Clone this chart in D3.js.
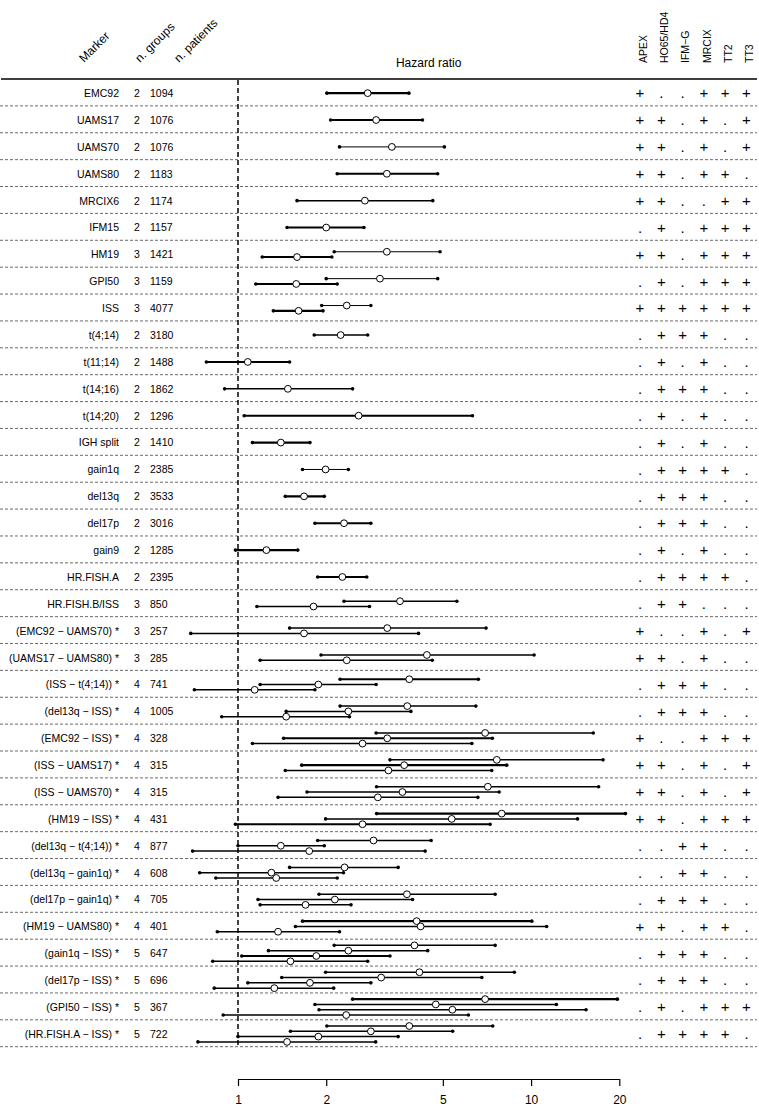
<!DOCTYPE html>
<html><head><meta charset="utf-8">
<script src="https://cdn.jsdelivr.net/npm/d3@7"></script>
<style>
body{margin:0;background:#fff}
svg{display:block}
text{font-family:"Liberation Sans",Arial,Helvetica,sans-serif;fill:#000}
</style>
</head><body>
<svg id="chart" width="759" height="1106"></svg>
<script>
// ---------------- data ----------------
const markers = ["EMC92","UAMS17","UAMS70","UAMS80","MRCIX6","IFM15","HM19","GPI50","ISS",
  "t(4;14)","t(11;14)","t(14;16)","t(14;20)","IGH split","gain1q","del13q","del17p","gain9",
  "HR.FISH.A","HR.FISH.B/ISS","(EMC92 − UAMS70) *","(UAMS17 − UAMS80) *","(ISS − t(4;14)) *",
  "(del13q − ISS) *","(EMC92 − ISS) *","(ISS − UAMS17) *","(ISS − UAMS70) *","(HM19 − ISS) *",
  "(del13q − t(4;14)) *","(del13q − gain1q) *","(del17p − gain1q) *","(HM19 − UAMS80) *",
  "(gain1q − ISS) *","(del17p − ISS) *","(GPI50 − ISS) *","(HR.FISH.A − ISS) *"];
const nGroups = [2,2,2,2,2,2,3,3,3,2,2,2,2,2,2,2,2,2,2,3,3,3,4,4,4,4,4,4,4,4,4,4,5,5,5,5];
const nPatients = [1094,1076,1076,1183,1174,1157,1421,1159,4077,3180,1488,1862,1296,1410,2385,
  3533,3016,1285,2395,850,257,285,741,1005,328,315,315,431,877,608,705,401,647,696,367,722];
const studies = ["APEX","HO65/HD4","IFM−G","MRCIX","TT2","TT3"];
const inclusion = ["+..+++","++.+.+","++.+.+","++.++.","++..++",".+.+++","++.+++",".+.+++","++++++",
  ".+++..",".+.+..",".+++..",".+.+..",".+.+..",".++++.",".+++..",".+++..",".+.+..",".++++.",".++...",
  "+..+.+","++.+..",".+++..",".+++..","+..+++","++.+.+","++.+.+","++.+++","..++..","..++..",
  ".+++..","++.++.",".+++..",".+++..",".+.+++",".++++."];
// hazard ratios per row (one entry per group contrast, top to bottom)
const hrEst = [[2.77],[2.96],[3.35],[3.22],[2.71],[2.00],[3.22,1.59],[3.05,1.58],[2.35,1.61],
  [2.24],[1.08],[1.48],[2.58],[1.40],[1.99],[1.68],[2.30],[1.25],[2.27],[3.57,1.81],
  [3.23,1.68],[4.41,2.35],[3.84,1.88,1.14],[3.78,2.38,1.46],[6.97,3.23,2.66],[7.64,3.69,3.26],
  [7.12,3.64,3.00],[7.94,5.36,2.66],[2.90,1.40,1.75],[2.31,1.30,1.35],[3.77,2.14,1.70],
  [4.07,4.20,1.37],[4.00,2.38,1.85,1.51],[4.16,3.08,1.76,1.33],[6.97,4.73,5.39,2.34],
  [3.84,2.84,1.88,1.47]];
const hrLow = [[2.01],[2.07],[2.22],[2.18],[1.59],[1.47],[2.13,1.21],[2.00,1.15],[1.93,1.32],
  [1.82],[0.78],[0.90],[1.05],[1.12],[1.66],[1.45],[1.83],[0.98],[1.87],[2.30,1.16],
  [1.50,0.69],[1.92,1.19],[2.23,1.19,0.71],[2.23,1.46,0.88],[2.96,1.43,1.12],[3.30,1.65,1.45],
  [2.97,1.72,1.37],[2.97,1.99,0.98],[1.87,1.00,0.70],[1.50,0.74,0.84],[1.89,1.17,1.19],
  [1.66,1.57,0.85],[2.13,1.27,1.03,0.82],[1.99,1.41,1.08,0.83],[2.46,1.83,1.89,0.89],
  [2.01,1.51,1.00,0.73]];
const hrHigh = [[3.83],[4.26],[5.06],[4.80],[4.62],[2.69],[4.89,2.09],[4.80,2.18],[2.84,1.95],
  [2.77],[1.50],[2.46],[6.31],[1.76],[2.38],[1.97],[2.84],[1.60],[2.75],[5.58,2.81],
  [7.02,4.13],[10.24,4.60],[6.61,2.96,1.83],[6.48,3.89,2.40],[16.3,7.38,6.28],[17.6,8.26,7.34],
  [17.0,7.78,6.58],[21.0,14.4,7.25],[4.56,1.97,4.35],[3.52,2.29,2.18],[7.54,3.94,2.43],
  [10.06,11.3,2.22],[7.54,4.44,3.30,2.77],[8.77,6.79,2.84,2.12],[19.7,12.2,15.4,6.11],
  [7.40,5.40,3.52,2.95]];
// relative weight of each contrast (drives line thickness)
const weight = [[3],[3],[1],[3],[2],[3],[1,3],[1,3],[1,3],[2],[3],[2],[3],[3],[1],[3],[3],[3],[3],[2,2],
  [2,2],[2,2],[3,2,2],[2,2,2],[2,3,2],[2,3,2],[2,2,2],[3,2,3],[2,2,2],[2,2,2],[2,2,2],[3,2,2],
  [2,2,3,2],[2,2,2,2],[3,2,2,2],[2,2,2,2]];
const axisTicks = [1,2,5,10,20];

// ---------------- layout ----------------
const svg = d3.select("#chart");
const topY = 79, botY = 1046.7;
const y = d3.scaleBand().domain(d3.range(markers.length)).range([topY, botY]);
const bw = y.bandwidth();
const rc = i => y(i) + bw / 2 + 0.7;
const x = d3.scaleLog().domain([1, 20]).range([238, 619.3]);
const sx = d3.scalePoint().domain(studies).range([640, 746.5]);
const lw = d3.scaleOrdinal().domain([1,2,3]).range([1, 1.5, 2.1]);
const stackGap = 5.3;

// header texts
const hdr = svg.append("g").attr("font-size", 12);
[["Marker",84,63],["n. groups",140,63],["n. patients",179,63]].forEach(([t,tx,ty]) => {
  hdr.append("text").attr("transform", `translate(${tx},${ty}) rotate(-45)`).text(t);
});
hdr.append("text").attr("x", (x(1)+x(20))/2).attr("y", 67).attr("text-anchor","middle").text("Hazard ratio");
svg.append("g").attr("font-size", 10.5).selectAll("text.study").data(studies).join("text").attr("class","study")
  .attr("transform", d => `translate(${sx(d)+6.8},63) rotate(-90)`).text(d => d);

// header rule
svg.append("line").attr("x1", 1).attr("x2", 757).attr("y1", topY).attr("y2", topY)
  .attr("stroke", "#000").attr("stroke-width", 1.5);

// row separators
svg.append("g").selectAll("line").data(markers).join("line")
  .attr("x1", 0).attr("x2", 757)
  .attr("y1", (d,i) => y(i) + bw).attr("y2", (d,i) => y(i) + bw)
  .attr("stroke", "#444").attr("stroke-width", 0.8).attr("stroke-dasharray", "3,2");

// reference line at HR = 1
svg.append("line").attr("x1", x(1)).attr("x2", x(1)).attr("y1", topY + 1).attr("y2", botY)
  .attr("stroke", "#000").attr("stroke-width", 1.5).attr("stroke-dasharray", "5,3");

// row labels
const lab = svg.append("g").attr("font-size", 10.5);
lab.selectAll("text.mk").data(markers).join("text").attr("class","mk")
  .attr("x", 119).attr("y", (d,i) => rc(i) + 3.9).attr("text-anchor","end").text(d => d);
lab.selectAll("text.ng").data(nGroups).join("text").attr("class","ng")
  .attr("x", 137).attr("y", (d,i) => rc(i) + 3.9).attr("text-anchor","middle").text(d => d);
lab.selectAll("text.np").data(nPatients).join("text").attr("class","np")
  .attr("x", 150).attr("y", (d,i) => rc(i) + 3.9).text(d => d);

// study inclusion matrix
const cells = [];
inclusion.forEach((s, i) => s.split("").forEach((c, k) => cells.push({i, k, c})));
svg.append("g").attr("font-size", 15).selectAll("text").data(cells).join("text")
  .attr("x", d => sx(studies[d.k])).attr("y", d => rc(d.i) + 5.2)
  .attr("text-anchor", "middle").text(d => d.c);

// intervals
const iv = [];
hrEst.forEach((arr, i) => arr.forEach((e, j) => iv.push({
  i, j, n: arr.length, est: e, lo: hrLow[i][j], hi: hrHigh[i][j], w: weight[i][j]
})));
const iy = d => rc(d.i) + (d.j - (d.n - 1) / 2) * stackGap;
const g = svg.append("g");
g.selectAll("line").data(iv).join("line")
  .attr("x1", d => x(d.lo)).attr("x2", d => x(d.hi)).attr("y1", iy).attr("y2", iy)
  .attr("stroke", "#000").attr("stroke-width", d => lw(d.w));
g.selectAll("circle.lo").data(iv).join("circle").attr("class","lo")
  .attr("cx", d => x(d.lo)).attr("cy", iy).attr("r", 1.8).attr("fill", "#000");
g.selectAll("circle.hi").data(iv).join("circle").attr("class","hi")
  .attr("cx", d => x(d.hi)).attr("cy", iy).attr("r", 1.8).attr("fill", "#000");
g.selectAll("circle.est").data(iv).join("circle").attr("class","est")
  .attr("cx", d => x(d.est)).attr("cy", iy).attr("r", 3.4)
  .attr("fill", "#fff").attr("stroke", "#000").attr("stroke-width", 1);

// axis
const ax = svg.append("g").attr("transform", "translate(0,1079)")
  .call(d3.axisBottom(x).tickValues(axisTicks).tickFormat(d3.format("d"))
    .tickSize(7).tickSizeOuter(0).tickPadding(9));
ax.select(".domain").attr("stroke-width", 1.2);
ax.selectAll(".tick line").attr("stroke-width", 1.2);
ax.selectAll("text").attr("font-size", 12).attr("font-family", '"Liberation Sans",Arial,sans-serif');
</script>
</body></html>
